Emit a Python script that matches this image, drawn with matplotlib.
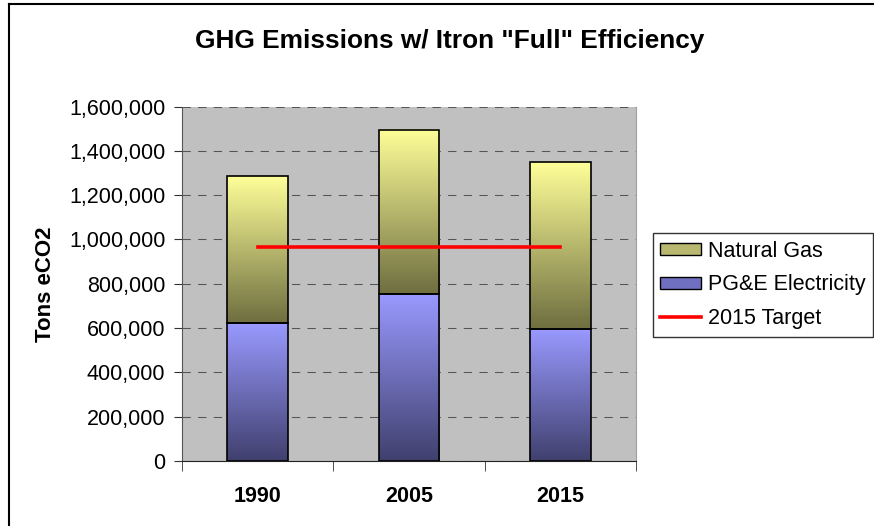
import numpy as np
import matplotlib as mpl
mpl.use('Agg')
from matplotlib import pyplot as plt
from matplotlib.colors import LinearSegmentedColormap
from matplotlib.patches import Patch
from matplotlib.lines import Line2D
from matplotlib.ticker import FuncFormatter

plt.rcParams['font.family'] = ['Liberation Sans', 'DejaVu Sans']

years = ['1990', '2005', '2015']
electricity = [622000, 753000, 595000]
natural_gas = [663000, 743000, 753000]
target_2015 = 966000

fig = plt.figure(figsize=(8.74, 5.26), dpi=100)
ax = fig.add_axes([0.2082, 0.1236, 0.5195, 0.6739])
ax.set_facecolor('#C0C0C0')

x = np.arange(len(years))
elec_cmap = LinearSegmentedColormap.from_list('elec', ['#40406E', '#9999FF'])
gas_cmap = LinearSegmentedColormap.from_list('gas', ['#6E6E40', '#FFFF99'])
grad = np.linspace(0, 1, 256).reshape(-1, 1)

def gradient_bars(bars, cmap):
    for b in bars:
        x0, y0 = b.get_x(), b.get_y()
        x1, y1 = x0 + b.get_width(), y0 + b.get_height()
        ax.imshow(grad, cmap=cmap, origin='lower', aspect='auto',
                  extent=(x0, x1, y0, y1), zorder=2, interpolation='bilinear')

b1 = ax.bar(x, electricity, width=0.4, facecolor='none', edgecolor='black', lw=1.2, zorder=3)
b2 = ax.bar(x, natural_gas, width=0.4, bottom=electricity, facecolor='none',
            edgecolor='black', lw=1.2, zorder=3)
gradient_bars(b1, elec_cmap)
gradient_bars(b2, gas_cmap)

ax.plot([x[0], x[-1]], [target_2015, target_2015], color='#FF0000', lw=2.6, zorder=4)

ax.set_xlim(-0.5, 2.5)
ax.set_ylim(0, 1600000)
ax.set_yticks(np.arange(0, 1600001, 200000))
ax.yaxis.set_major_formatter(FuncFormatter(lambda v, p: '{:,.0f}'.format(v)))
ax.yaxis.grid(True, color='#555555', lw=0.75, linestyle=(0, (8, 7)), zorder=1)
ax.set_axisbelow(True)

ax.set_xticks(x)
ax.set_xticklabels(years, fontsize=15.5, fontweight='bold')
ax.set_xticks([-0.5, 0.5, 1.5, 2.5], minor=True)
ax.tick_params(axis='x', which='major', length=0, pad=18)
ax.tick_params(axis='x', which='minor', length=7, direction='out', color='#333333')
ax.tick_params(axis='y', length=6, direction='out', labelsize=15.5, color='#333333', pad=6)

ax.spines['top'].set_visible(False)
ax.spines['right'].set_color('#A0A0A0')
ax.spines['left'].set_color('#555555')
ax.spines['bottom'].set_color('#222222')

ax.set_ylabel('Tons eCO2', fontsize=16, fontweight='bold', labelpad=9)

fig.text(0.5143, 0.922, 'GHG Emissions w/ Itron "Full" Efficiency', ha='center', va='center',
         fontsize=18.9, fontweight='bold')

handles = [Patch(facecolor='#B8B870', edgecolor='black', lw=1),
           Patch(facecolor='#7070C0', edgecolor='black', lw=1),
           Line2D([], [], color='#FF0000', lw=2.6)]
leg = fig.legend(handles, ['Natural Gas', 'PG&E Electricity', '2015 Target'],
                 loc='upper left', bbox_to_anchor=(0.747, 0.557), fontsize=15.5,
                 frameon=True, fancybox=False, borderaxespad=0, handlelength=1.9,
                 handleheight=0.5, handletextpad=0.3, labelspacing=0.6, borderpad=0.35)
leg.get_frame().set_edgecolor('black')
leg.get_frame().set_linewidth(1)

# outer chart border (left and top edges are the only visible ones)
fig.add_artist(Line2D([8.5 / 874, 8.5 / 874], [0, 1 - 3.5 / 526], transform=fig.transFigure,
                      color='black', lw=1.5))
fig.add_artist(Line2D([8.5 / 874, 1], [1 - 3.5 / 526, 1 - 3.5 / 526], transform=fig.transFigure,
                      color='black', lw=1.5))

fig.savefig('out.png', dpi=100)
